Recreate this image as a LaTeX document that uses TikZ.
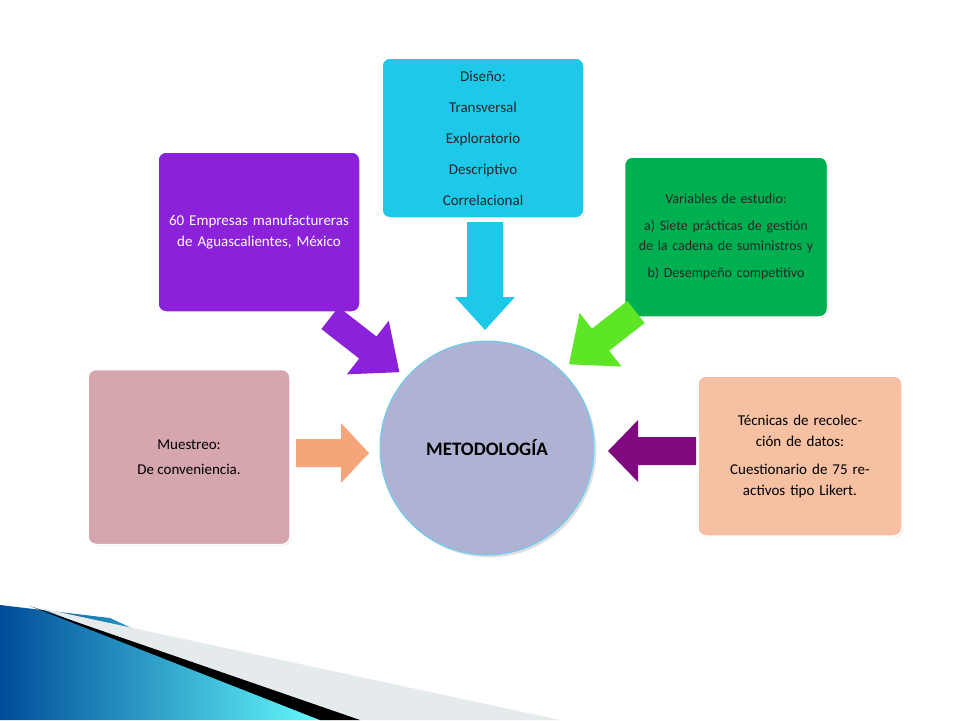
\documentclass[tikz,border=0pt]{standalone}
\usepackage{fontspec}
\setmainfont{Carlito}
\usetikzlibrary{shadows}
\definecolor{cpink}{HTML}{D5A6AE}
\definecolor{cpurp}{HTML}{8B22D9}
\definecolor{ccyan}{HTML}{1EC8E8}
\definecolor{cgreen}{HTML}{00B050}
\definecolor{cpeach}{HTML}{F6C0A2}
\definecolor{ccirc}{HTML}{AFB3D3}
\definecolor{corange}{HTML}{F4A57A}
\definecolor{cviolet}{HTML}{7F0A80}
\definecolor{clime}{HTML}{5CE626}
\begin{document}
\begin{tikzpicture}[x=1pt,y=-1pt,
 box/.style={draw=white,line width=1.5pt,rounded corners=8pt,align=center,inner sep=3pt,font=\fontsize{15}{21}\selectfont,drop shadow={opacity=0.25,shadow xshift=1pt,shadow yshift=-1pt}},
 blockarrow/.pic={\fill (0,-\aw) -- (\al,-\aw) -- (\al,-\ah) -- (\al+\ahl,0) -- (\al,\ah) -- (\al,\aw) -- (0,\aw) -- cycle;}]
\useasboundingbox (0,0) rectangle (960,720);
\fill[white] (0,0) rectangle (960,720);
% bottom decoration
\shade[left color=blue!50!cyan!60!black,right color=cyan!60!white] (0,605) -- (110,618) -- (330,720) -- (0,720) -- cycle;
\fill[cyan!15!gray!20] (40,608) -- (560,720) -- (330,720) -- cycle;
\fill[black] (30,606) -- (360,720) -- (320,720) -- cycle;
% boxes
\node[box,fill=cpink,text=black,minimum width=202pt,minimum height=175pt] (m) at (189,457) {Muestreo:\\[4pt]De conveniencia.};
\node[box,fill=cpurp,text=white,minimum width=202pt,minimum height=160pt,text width=192pt] (e) at (259,232) {60 Empresas manufactureras de Aguascalientes, México};
\node[box,fill=ccyan,text=black!85,minimum width=202pt,minimum height=160pt,font=\fontsize{15}{31}\selectfont] (d) at (483,138) {Diseño:\\Transversal\\Exploratorio\\Descriptivo\\Correlacional};
\node[box,fill=cgreen,text=black!85,minimum width=203pt,minimum height=160pt,text width=195pt,font=\fontsize{14}{20}\selectfont] (v) at (726,237) {Variables de estudio:\\[7pt]a) Siete prácticas de gestión de la cadena de suministros y\\[7pt]b) Desempeño competitivo};
\node[box,fill=cpeach,text=black,minimum width=204pt,minimum height=160pt,text width=198pt] (t) at (800,456) {Técnicas de recolección de datos:\\[7pt]Cuestionario de 75 reactivos tipo Likert.};
% circle
\node[circle,draw=cyan!60,line width=1pt,fill=ccirc,minimum size=214pt,font=\fontsize{19}{22}\selectfont\bfseries,drop shadow={opacity=0.25}] (c) at (487,448) {METODOLOGÍA};
% arrows
\def\aw{14}\def\ah{30}\def\al{45}\def\ahl{28}
\pic[fill=corange] (a1) at (296,453) {blockarrow};
\def\aw{14}\def\ah{34}\def\al{48}\def\ahl{40}
\pic[fill=cpurp,rotate=-38] (a2) at (330,318) {blockarrow};
\def\aw{18}\def\ah{30}\def\al{75}\def\ahl{33}
\pic[fill=ccyan,rotate=-90] (a3) at (485,222) {blockarrow};
\def\aw{14}\def\ah{34}\def\al{45}\def\ahl{40}
\pic[fill=clime,rotate=-142] (a4) at (636,312) {blockarrow};
\def\aw{14}\def\ah{31}\def\al{58}\def\ahl{30}
\pic[fill=cviolet,rotate=180] (a5) at (696,451) {blockarrow};
\end{tikzpicture}
\end{document}
